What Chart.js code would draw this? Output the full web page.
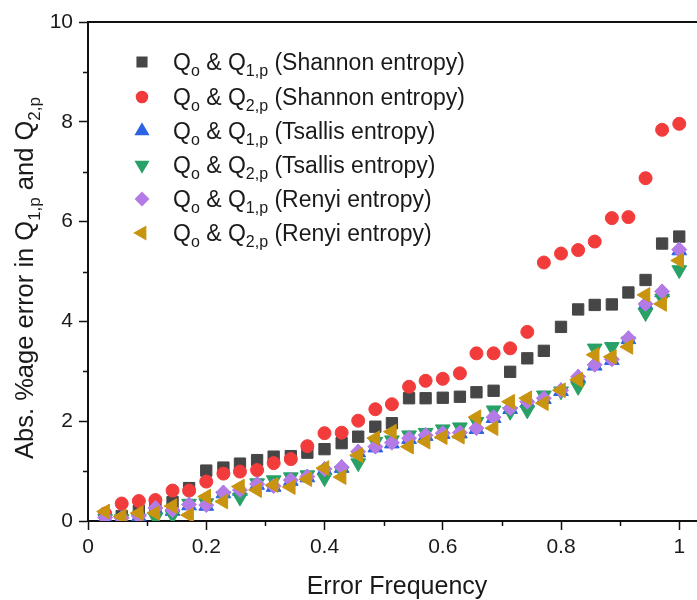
<!DOCTYPE html>
<html>
<head>
<meta charset="utf-8">
<script src="https://cdn.jsdelivr.net/npm/chart.js"></script>
<style>
  body { margin: 0; background: #fff; }
  canvas { display: block; }
</style>
</head>
<body>
<canvas id="errChart" width="697" height="600"></canvas>
<script>
// error frequency (x) for each of the 35 error levels
const errorFreq = [0.029, 0.057, 0.086, 0.114, 0.143, 0.171, 0.2, 0.229, 0.257, 0.286,
  0.314, 0.343, 0.371, 0.4, 0.429, 0.457, 0.486, 0.514, 0.543, 0.571,
  0.6, 0.629, 0.657, 0.686, 0.714, 0.743, 0.771, 0.8, 0.829, 0.857,
  0.886, 0.914, 0.943, 0.971, 1.0];

// abs. % error
const shannonQ1 = [0.05, 0.10, 0.20, 0.32, 0.38, 0.66, 1.01, 1.07, 1.15, 1.22,
  1.29, 1.30, 1.37, 1.44, 1.56, 1.69, 1.89, 1.96, 2.46, 2.46,
  2.47, 2.49, 2.58, 2.61, 2.99, 3.26, 3.41, 3.89, 4.24, 4.33,
  4.34, 4.58, 4.83, 5.56, 5.70];
const shannonQ2 = [0.15, 0.35, 0.40, 0.42, 0.61, 0.61, 0.79, 0.95, 0.99, 1.02,
  1.16, 1.24, 1.50, 1.76, 1.77, 2.01, 2.24, 2.34, 2.69, 2.81,
  2.85, 2.96, 3.36, 3.36, 3.46, 3.79, 5.18, 5.36, 5.43, 5.60,
  6.07, 6.09, 6.87, 7.84, 7.96];
const tsallisQ1 = [0.05, 0.05, 0.08, 0.23, 0.20, 0.31, 0.30, 0.55, 0.60, 0.72,
  0.68, 0.80, 0.87, 1.02, 1.06, 1.37, 1.47, 1.55, 1.64, 1.70,
  1.74, 1.75, 1.84, 2.06, 2.24, 2.37, 2.44, 2.60, 2.87, 3.11,
  3.22, 3.64, 4.33, 4.58, 5.42];
const tsallisQ2 = [0.04, 0.04, 0.05, 0.07, 0.12, 0.35, 0.36, 0.50, 0.47, 0.76,
  0.82, 0.88, 0.92, 0.86, 1.00, 1.16, 1.59, 1.62, 1.72, 1.77,
  1.84, 1.88, 1.99, 2.22, 2.19, 2.22, 2.52, 2.60, 2.69, 3.46,
  3.49, 3.60, 4.17, 4.46, 5.03];
const renyiQ1 = [0.07, 0.06, 0.10, 0.26, 0.22, 0.33, 0.32, 0.57, 0.62, 0.74,
  0.70, 0.82, 0.89, 1.04, 1.08, 1.39, 1.49, 1.57, 1.66, 1.72,
  1.76, 1.77, 1.86, 2.08, 2.26, 2.39, 2.46, 2.62, 2.89, 3.13,
  3.24, 3.66, 4.35, 4.60, 5.44];
const renyiQ2 = [0.19, 0.09, 0.16, 0.16, 0.30, 0.12, 0.49, 0.39, 0.69, 0.62,
  0.72, 0.68, 0.84, 1.06, 0.88, 1.32, 1.66, 1.79, 1.49, 1.59,
  1.68, 1.69, 2.08, 1.86, 2.39, 2.46, 2.36, 2.62, 2.83, 3.33,
  3.29, 3.49, 4.53, 4.35, 5.22];

const seriesNames = [
  'Q_o & Q_{1,p} (Shannon entropy)',
  'Q_o & Q_{2,p} (Shannon entropy)',
  'Q_o & Q_{1,p} (Tsallis entropy)',
  'Q_o & Q_{2,p} (Tsallis entropy)',
  'Q_o & Q_{1,p} (Renyi entropy)',
  'Q_o & Q_{2,p} (Renyi entropy)'
];

const xMajorTicks = [0, 0.2, 0.4, 0.6, 0.8, 1];
const xMinorTicks = [0.1, 0.3, 0.5, 0.7, 0.9];
const yMajorTicks = [0, 2, 4, 6, 8, 10];
const yMinorTicks = [1, 3, 5, 7, 9];

const xTitle = 'Error Frequency';
const yTitle = 'Abs. %age error in Q_{1,p} and Q_{2,p}';

const FONT = '"Liberation Sans", Arial, sans-serif';

const toPoints = vals => errorFreq.map((x, i) => ({ x: x, y: vals[i] }));

const styles = [
  { data: shannonQ1, color: '#464646', pointStyle: 'rect', radius: 8, rotation: 0 },
  { data: shannonQ2, color: '#f23b3b', pointStyle: 'circle', radius: 6.5, rotation: 0 },
  { data: tsallisQ1, color: '#2b63e3', pointStyle: 'triangle', radius: 8.5, rotation: 0 },
  { data: tsallisQ2, color: '#27a166', pointStyle: 'triangle', radius: 8.5, rotation: 180 },
  { data: renyiQ1, color: '#b47ae6', pointStyle: 'rectRot', radius: 7.5, rotation: 0 },
  { data: renyiQ2, color: '#c9940f', pointStyle: 'triangle', radius: 8.5, rotation: -90 }
];

// split 'Q_{1,p}' style text into normal / subscript pieces
function parseRich(text) {
  const parts = [];
  let buf = '';
  for (let i = 0; i < text.length; i++) {
    if (text[i] === '_') {
      if (buf) parts.push({ t: buf, sub: false });
      buf = '';
      if (text[i + 1] === '{') {
        const end = text.indexOf('}', i);
        parts.push({ t: text.slice(i + 2, end), sub: true });
        i = end;
      } else {
        parts.push({ t: text[i + 1], sub: true });
        i++;
      }
    } else {
      buf += text[i];
    }
  }
  if (buf) parts.push({ t: buf, sub: false });
  return parts;
}

function richWidth(ctx, parts, size, subSize) {
  let w = 0;
  parts.forEach(p => {
    ctx.font = (p.sub ? subSize : size) + 'px ' + FONT;
    w += ctx.measureText(p.t).width;
  });
  return w;
}

function drawRich(ctx, text, x, y, size, subSize, center) {
  const parts = parseRich(text);
  let cx = center ? x - richWidth(ctx, parts, size, subSize) / 2 : x;
  ctx.textAlign = 'left';
  ctx.textBaseline = 'alphabetic';
  parts.forEach(p => {
    ctx.font = (p.sub ? subSize : size) + 'px ' + FONT;
    ctx.fillText(p.t, cx, p.sub ? y + size * 0.27 : y);
    cx += ctx.measureText(p.t).width;
  });
}

const decorations = {
  id: 'decorations',
  afterDraw(chart) {
    const ctx = chart.ctx;
    const area = chart.chartArea;
    const xs = chart.scales.x;
    const ys = chart.scales.y;
    ctx.save();
    ctx.strokeStyle = '#111';

    // top frame line
    ctx.lineWidth = 2;
    ctx.beginPath();
    ctx.moveTo(area.left - 1, area.top);
    ctx.lineTo(chart.width, area.top);
    ctx.stroke();

    // minor ticks
    ctx.lineWidth = 1.5;
    ctx.beginPath();
    xMinorTicks.forEach(v => {
      const px = Math.round(xs.getPixelForValue(v)) + 0.5;
      ctx.moveTo(px, area.bottom);
      ctx.lineTo(px, area.bottom + 5);
    });
    yMinorTicks.forEach(v => {
      const py = Math.round(ys.getPixelForValue(v)) + 0.5;
      ctx.moveTo(area.left - 5, py);
      ctx.lineTo(area.left, py);
    });
    ctx.stroke();

    // axis titles
    ctx.fillStyle = '#1a1a1a';
    drawRich(ctx, xTitle, 397, 594, 25, 17, true);
    ctx.save();
    ctx.translate(33, 278);
    ctx.rotate(-Math.PI / 2);
    drawRich(ctx, yTitle, 0, 0, 25.5, 17, true);
    ctx.restore();

    // legend
    const rowY = [62, 97, 131, 165, 199, 233];
    chart.data.datasets.forEach((ds, i) => {
      ctx.fillStyle = ds.backgroundColor;
      ctx.strokeStyle = ds.borderColor;
      Chart.helpers.drawPoint(ctx, {
        pointStyle: ds.pointStyle,
        radius: ds.pointRadius * 0.85,
        rotation: ds.pointRotation,
        borderWidth: 1
      }, 142, rowY[i]);
      ctx.fillStyle = '#1a1a1a';
      drawRich(ctx, seriesNames[i], 173, rowY[i] + 8, 23, 16, false);
    });
    ctx.restore();
  }
};

const ctx = document.getElementById('errChart').getContext('2d');
const errChart = new Chart(ctx, {
  type: 'scatter',
  data: {
    datasets: styles.map((s, i) => ({
      label: seriesNames[i],
      data: toPoints(s.data),
      backgroundColor: s.color,
      borderColor: s.color,
      borderWidth: 1,
      pointStyle: s.pointStyle,
      pointRadius: s.radius,
      pointRotation: s.rotation,
      order: styles.length - i
    }))
  },
  options: {
    responsive: false,
    animation: false,
    devicePixelRatio: 1,
    layout: { autoPadding: false, padding: { top: 22, right: 0, left: 0, bottom: 0 } },
    plugins: {
      legend: { display: false },
      tooltip: { enabled: false }
    },
    scales: {
      x: {
        type: 'linear',
        min: 0,
        max: 1.03,
        afterBuildTicks: scale => { scale.ticks = xMajorTicks.map(v => ({ value: v })); },
        afterFit: scale => { scale.height = 79; },
        grid: { drawOnChartArea: false, tickLength: 9, tickWidth: 1.5, tickColor: '#111' },
        border: { display: true, color: '#111', width: 2 },
        ticks: {
          padding: 5,
          color: '#1a1a1a',
          font: { family: FONT, size: 21 },
          maxRotation: 0,
          callback: v => String(+v.toFixed(1))
        }
      },
      y: {
        type: 'linear',
        min: 0,
        max: 10,
        afterBuildTicks: scale => { scale.ticks = yMajorTicks.map(v => ({ value: v })); },
        afterFit: scale => { scale.width = 88; },
        grid: { drawOnChartArea: false, tickLength: 9, tickWidth: 1.5, tickColor: '#111' },
        border: { display: true, color: '#111', width: 2 },
        ticks: {
          padding: 6,
          color: '#1a1a1a',
          font: { family: FONT, size: 21 },
          callback: v => String(v)
        }
      }
    }
  },
  plugins: [decorations]
});
</script>
</body>
</html>
